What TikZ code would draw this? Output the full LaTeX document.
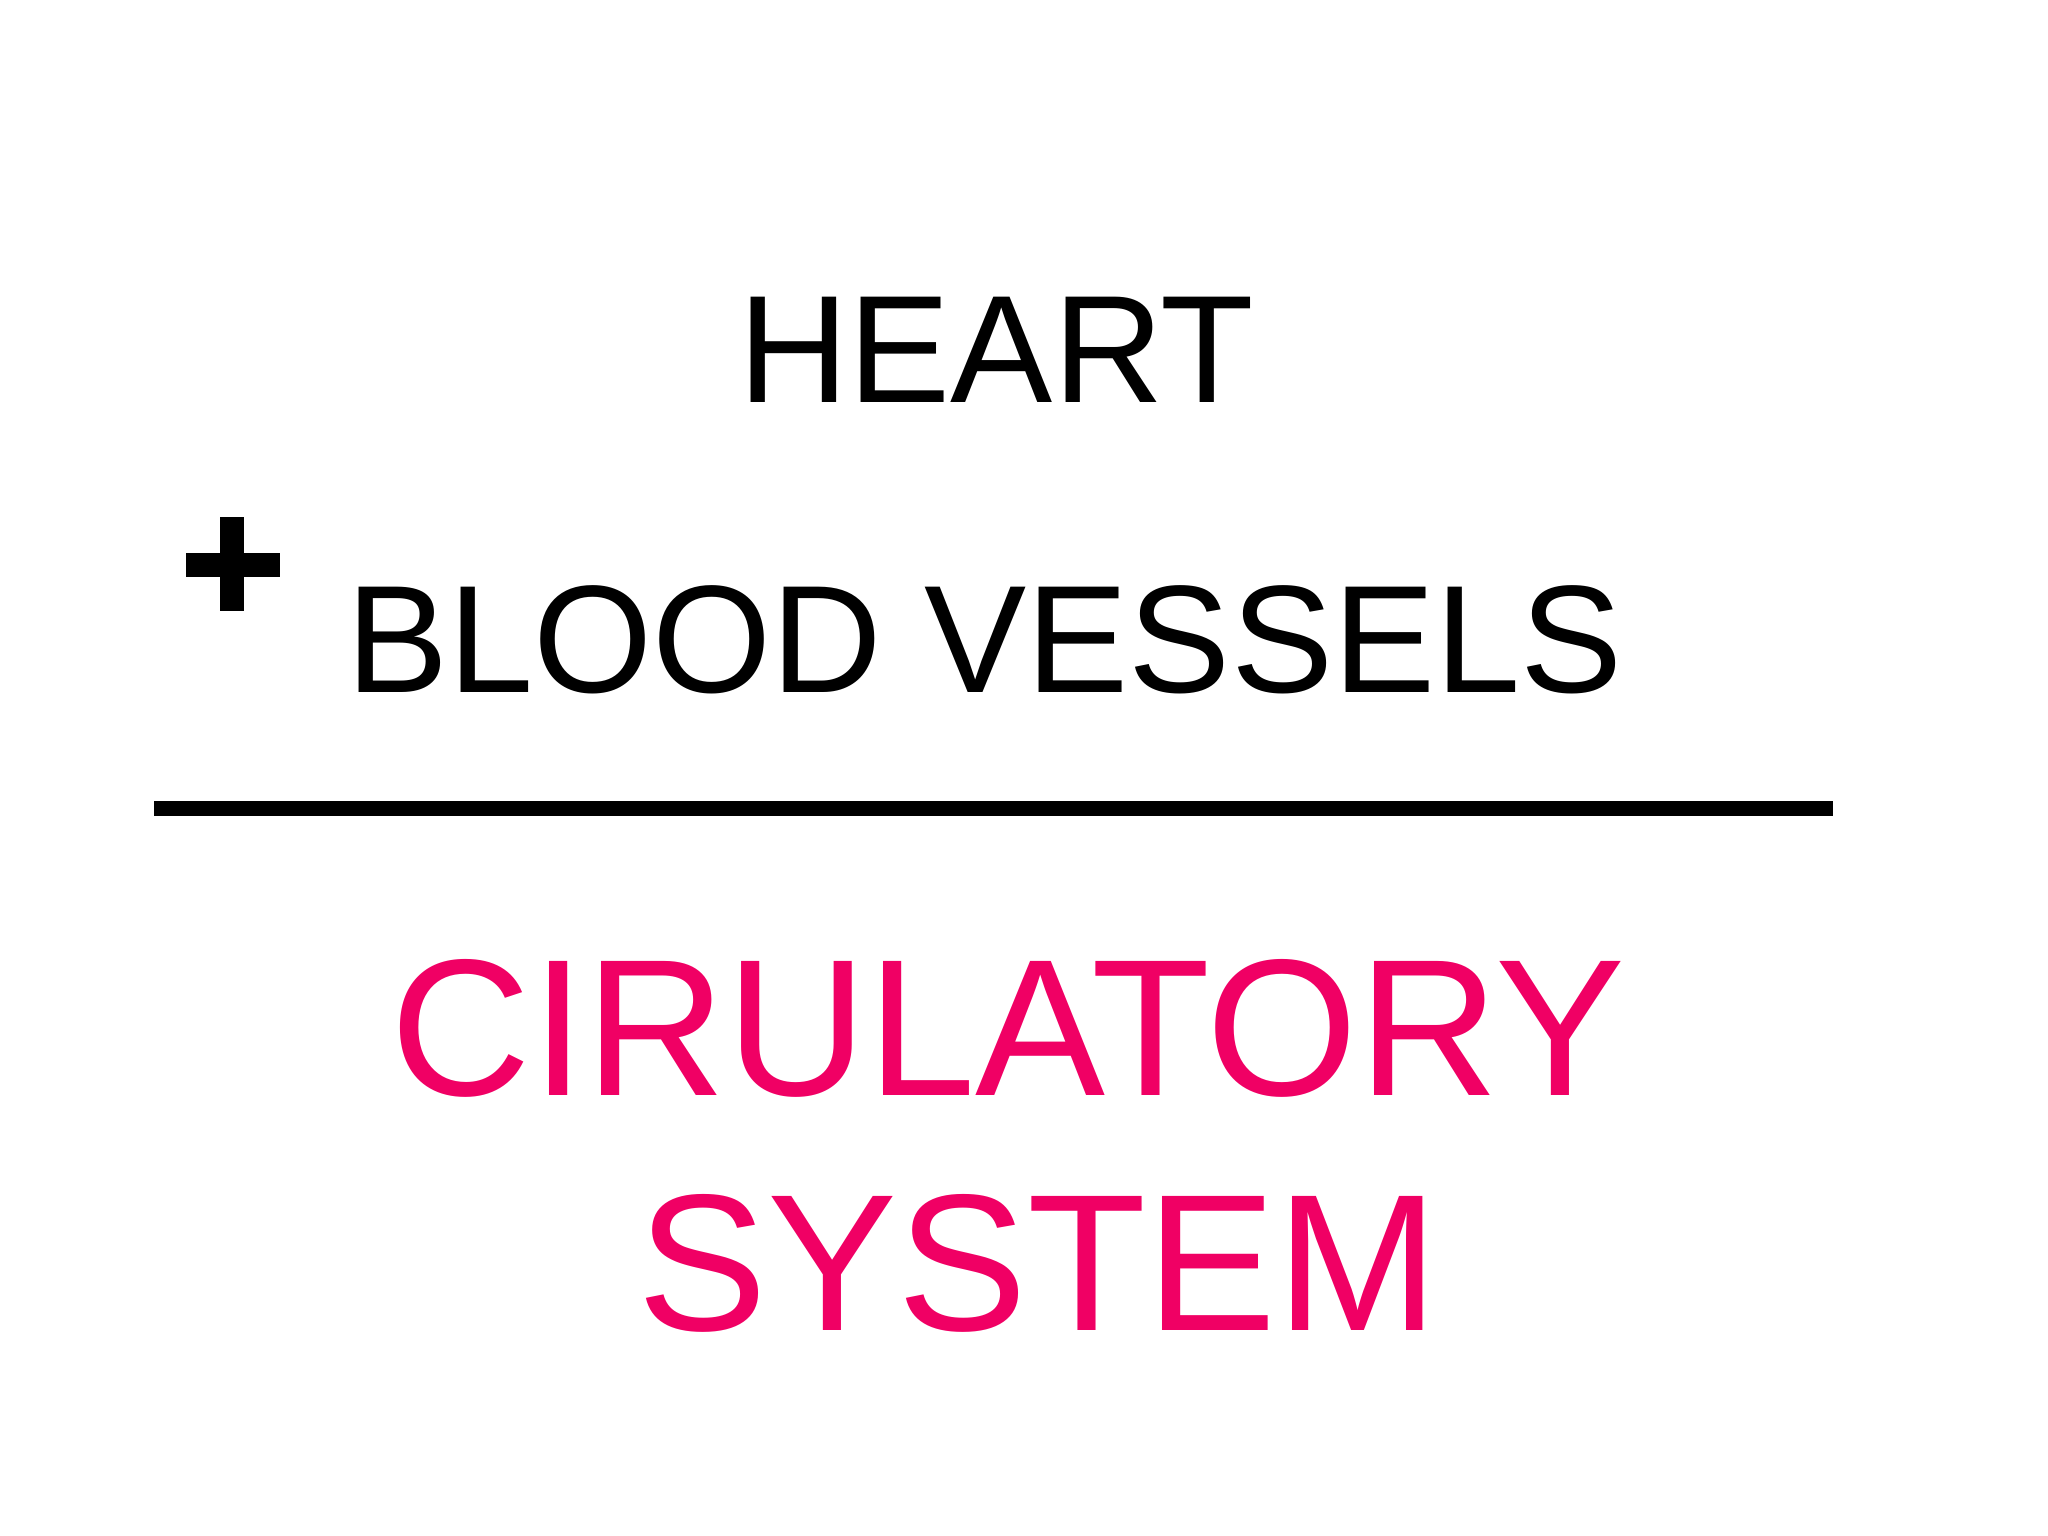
\documentclass[tikz,border=0pt]{standalone}
\usepackage{fontspec}
\setmainfont{Liberation Sans}
\definecolor{pinkred}{RGB}{240,0,100}
\begin{document}
\begin{tikzpicture}[x=0.01cm,y=-0.01cm,
  blk/.style={anchor=base,inner sep=0pt,font=\fontsize{33pt}{33pt}\selectfont},
  pnk/.style={anchor=base,inner sep=0pt,text=pinkred,font=\fontsize{42pt}{42pt}\selectfont}]
\useasboundingbox (0,0) rectangle (1552,1164);
\node[blk] (heart) at (755,305) {HEART};
\node[blk] (bv) at (746,525) {BLOOD VESSELS};
\fill (167,392) rectangle (185,463);
\fill (141,419) rectangle (212,437);
\fill (117,607) rectangle (1389,618);
\node[pnk] (circ) at (764,830) {CIRULATORY};
\node[pnk] (sys) at (787,1008) {SYSTEM};
\end{tikzpicture}
\end{document}
